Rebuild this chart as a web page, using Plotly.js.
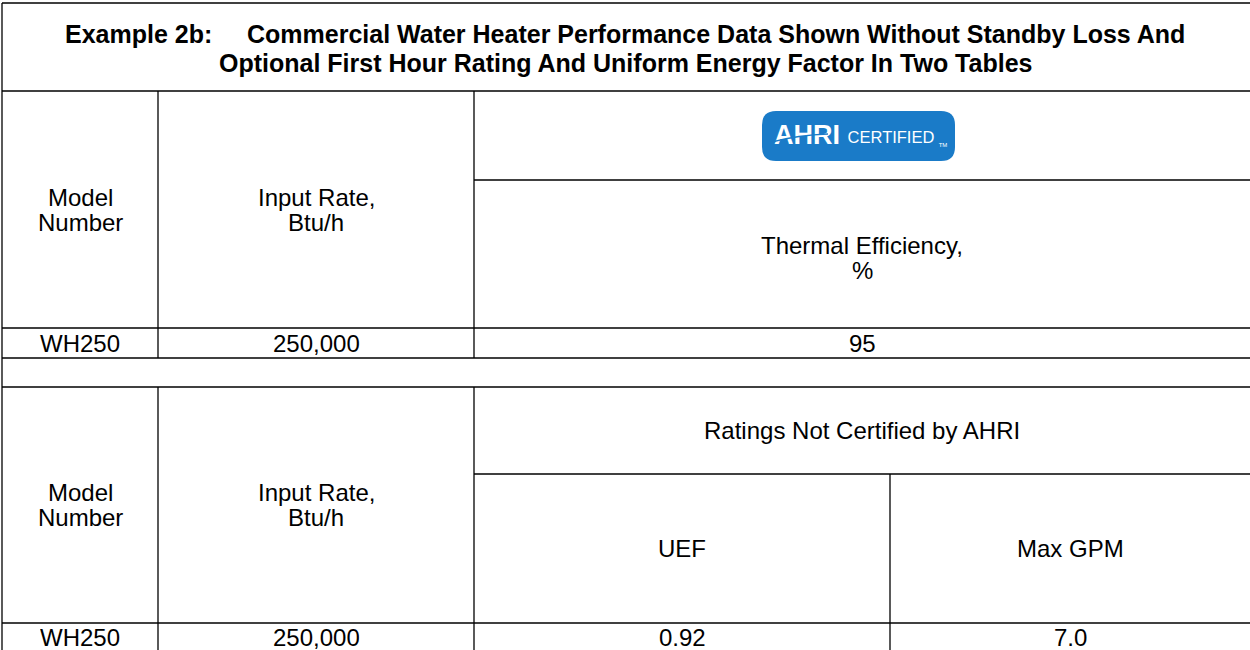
<!DOCTYPE html>
<html>
<head>
<meta charset="utf-8">
<script src="https://cdn.plot.ly/plotly-3.0.1.min.js"></script>
<style>
html,body{margin:0;padding:0;background:#fff;}
#chart{width:1250px;height:650px;}
</style>
</head>
<body>
<div id="chart"></div>
<script>
// ---------- data ----------
const titleLines = [
  "Example 2b:     Commercial Water Heater Performance Data Shown Without Standby Loss And",
  "Optional First Hour Rating And Uniform Energy Factor In Two Tables"
];
const headerModel = ["Model", "Number"];
const headerInput = ["Input Rate,", "Btu/h"];
const headerThermal = ["Thermal Efficiency,", "%"];
const headerNotCertified = ["Ratings Not Certified by AHRI"];
const headerUEF = ["UEF"];
const headerMaxGPM = ["Max GPM"];
const logoWords = ["AHRI", "CERTIFIED", "TM"];
const modelNumbers = ["WH250"];
const inputRates = [250000];
const thermalEfficiency = [95];
const uefValues = [0.92];
const maxGPMValues = [7.0];

// ---------- layout geometry ----------
const X = {left: 2, c1: 158, c2: 474, c3: 890, right: 1250};
const Y = {top: 3, title: 91, logo: 180, row1: 328, gap: 358, t2: 387, sub: 474, row2: 623, bottom: 650};

const lineStyle = {color: '#000', width: 1.3};
function hline(y, x0, x1) { return {type: 'line', xref: 'x', yref: 'y', x0: x0, x1: x1, y0: y, y1: y, line: lineStyle}; }
function vline(x, y0, y1) { return {type: 'line', xref: 'x', yref: 'y', x0: x, x1: x, y0: y0, y1: y1, line: lineStyle}; }

const shapes = [
  hline(Y.top, X.left, X.right),
  vline(X.left, Y.top, Y.bottom),
  hline(Y.title, X.left, X.right),
  vline(X.c1, Y.title, Y.gap),
  vline(X.c2, Y.title, Y.gap),
  hline(Y.logo, X.c2, X.right),
  hline(Y.row1, X.left, X.right),
  hline(Y.gap, X.left, X.right),
  hline(Y.t2, X.left, X.right),
  vline(X.c1, Y.t2, Y.bottom),
  vline(X.c2, Y.t2, Y.bottom),
  hline(Y.sub, X.c2, X.right),
  vline(X.c3, Y.sub, Y.bottom),
  hline(Y.row2, X.left, X.right)
];

// AHRI logo: rounded blue badge
const blue = '#1a7bc8';
const lx0 = 762, lx1 = 955, ly0 = 111, ly1 = 161, r = 14;
const badge = `M ${lx0 + r} ${ly0} L ${lx1 - r} ${ly0} Q ${lx1} ${ly0} ${lx1} ${ly0 + r} L ${lx1} ${ly1 - r} Q ${lx1} ${ly1} ${lx1 - r} ${ly1} L ${lx0 + r} ${ly1} Q ${lx0} ${ly1} ${lx0} ${ly1 - r} L ${lx0} ${ly0 + r} Q ${lx0} ${ly0} ${lx0 + r} ${ly0} Z`;
shapes.push({type: 'path', xref: 'x', yref: 'y', path: badge, fillcolor: blue, line: {width: 0}, layer: 'below'});
// thin swoosh through the AHRI letters
shapes.push({type: 'path', xref: 'x', yref: 'y', path: 'M 772 142 Q 798 135 828 134', line: {color: blue, width: 1.4}, layer: 'above'});

const FAM = 'Liberation Sans, Arial, sans-serif';
const bodyFont = {family: FAM, size: 24, color: '#000'};
const titleFont = {family: FAM, size: 25, color: '#000', weight: 'bold'};

// place a (multi-line) text block centred at (x, yc) with a given line spacing
function block(lines, x, yc, f, spacing, boxH) {
  const n = lines.length;
  return lines.map((t, i) => {
    const a = {
      text: t, x: x, y: yc + (i - (n - 1) / 2) * spacing, xref: 'x', yref: 'y',
      showarrow: false, xanchor: 'center', yanchor: 'middle', font: f
    };
    if (boxH) a.height = boxH;
    return a;
  });
}
const fmt = v => v.toLocaleString('en-US');

const cx1 = (X.left + X.c1) / 2, cx2 = (X.c1 + X.c2) / 2, cx3 = (X.c2 + X.right) / 2;
const cxU = (X.c2 + X.c3) / 2, cxM = (X.c3 + X.right) / 2;
const mid = (a, b) => (a + b) / 2;
const SP = 25;
const lastRowY = 637;

const annotations = [].concat(
  block(titleLines, 625, mid(Y.top, Y.title) + 1, titleFont, 29),
  block(headerModel, cx1, mid(Y.title, Y.row1), bodyFont, SP),
  block(headerInput, cx2, mid(Y.title, Y.row1), bodyFont, SP),
  block(headerThermal, cx3, mid(Y.logo, Y.row1) + 4, bodyFont, SP),
  block([modelNumbers[0]], cx1, mid(Y.row1, Y.gap), bodyFont, SP),
  block([fmt(inputRates[0])], cx2, mid(Y.row1, Y.gap), bodyFont, SP),
  block([String(thermalEfficiency[0])], cx3, mid(Y.row1, Y.gap), bodyFont, SP),
  block(headerModel, cx1, mid(Y.t2, Y.row2), bodyFont, SP),
  block(headerInput, cx2, mid(Y.t2, Y.row2), bodyFont, SP),
  block(headerNotCertified, cx3, mid(Y.t2, Y.sub), bodyFont, SP),
  block(headerUEF, cxU, mid(Y.sub, Y.row2), bodyFont, SP),
  block(headerMaxGPM, cxM, mid(Y.sub, Y.row2), bodyFont, SP),
  block([modelNumbers[0]], cx1, lastRowY, bodyFont, SP, 24),
  block([fmt(inputRates[0])], cx2, lastRowY, bodyFont, SP, 24),
  block([uefValues[0].toFixed(2)], cxU, lastRowY, bodyFont, SP, 24),
  block([maxGPMValues[0].toFixed(1)], cxM, lastRowY, bodyFont, SP, 24)
);

const layout = {
  width: 1250, height: 650,
  margin: {l: 0, r: 0, t: 0, b: 0, pad: 0},
  paper_bgcolor: '#fff', plot_bgcolor: '#fff',
  showlegend: false,
  xaxis: {range: [0, 1250], visible: false, fixedrange: true},
  yaxis: {range: [650, 0], visible: false, fixedrange: true},
  shapes: shapes,
  annotations: annotations
};

// logo words drawn as text traces so the swoosh can sit above them
const traces = [
  {type: 'scatter', mode: 'text', hoverinfo: 'skip', showlegend: false,
   x: [807], y: [137], text: [logoWords[0]],
   textfont: {family: FAM, size: 27, color: '#fff', weight: 'bold'}},
  {type: 'scatter', mode: 'text', hoverinfo: 'skip', showlegend: false,
   x: [891], y: [139], text: [logoWords[1]],
   textfont: {family: FAM, size: 16.5, color: '#fff'}},
  {type: 'scatter', mode: 'text', hoverinfo: 'skip', showlegend: false,
   x: [943], y: [145], text: [logoWords[2]],
   textfont: {family: FAM, size: 6, color: '#fff'}}
];

Plotly.newPlot('chart', traces, layout, {displayModeBar: false, staticPlot: true});
</script>
</body>
</html>
